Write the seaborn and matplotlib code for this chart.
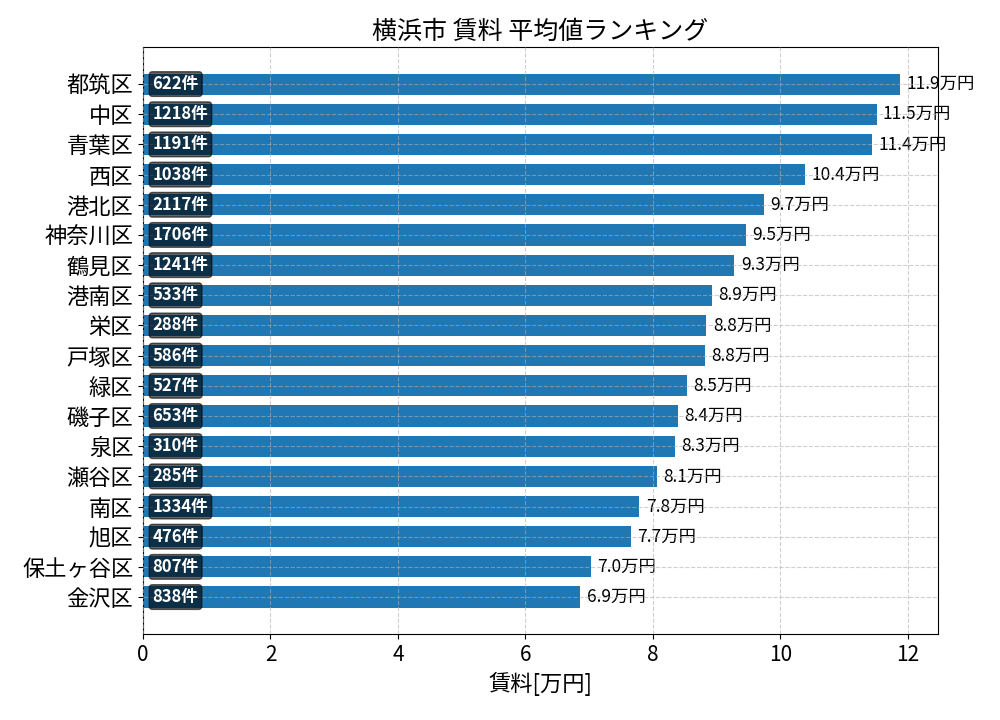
import matplotlib
matplotlib.use("Agg")
import matplotlib.pyplot as plt
import seaborn as sns
import pandas as pd

# 区ごとの平均賃料[万円]と件数
wards = ['都筑区', '中区', '青葉区', '西区', '港北区', '神奈川区', '鶴見区', '港南区', '栄区',
         '戸塚区', '緑区', '磯子区', '泉区', '瀬谷区', '南区', '旭区', '保土ヶ谷区', '金沢区']
rent_avg = [11.88, 11.51, 11.44, 10.39, 9.74, 9.46, 9.28, 8.93, 8.84,
            8.82, 8.54, 8.40, 8.34, 8.07, 7.79, 7.66, 7.03, 6.86]
counts = [622, 1218, 1191, 1038, 2117, 1706, 1241, 533, 288,
          586, 527, 653, 310, 285, 1334, 476, 807, 838]

df = pd.DataFrame({'ward': wards, 'rent': rent_avg, 'count': counts})

plt.rcParams['font.family'] = ['Noto Sans CJK JP', 'DejaVu Sans']

fig, ax = plt.subplots(figsize=(10, 7.2), dpi=100)
sns.barplot(data=df, y='ward', x='rent', orient='h', color='#1f77b4',
            saturation=1, width=0.7, ax=ax)

n = len(df)
ax.set_ylim(n - 1 + 1.235, -1.235)
ax.set_xlim(0, max(rent_avg) * 1.05)

for i, row in df.iterrows():
    ax.text(row['rent'] + 0.1, i, f"{row['rent']:.1f}万円", va='center', ha='left',
            fontsize=12.5, zorder=2, clip_on=False)
    ax.text(0.15, i, f"{row['count']}件", va='center', ha='left', fontsize=12,
            color='white', fontweight='bold', zorder=5,
            bbox=dict(boxstyle='round,pad=0.2', facecolor='black', alpha=0.6))

ax.set_axisbelow(False)
ax.grid(True, linestyle='--', alpha=0.6)
ax.set_title('横浜市 賃料 平均値ランキング', fontsize=18)
ax.set_xlabel('賃料[万円]', fontsize=16)
ax.set_ylabel('')
ax.tick_params(axis='y', labelsize=16)
ax.tick_params(axis='x', labelsize=15)

fig.subplots_adjust(left=0.143, right=0.938, top=0.935, bottom=0.119)
plt.savefig('out.png', dpi=100)
